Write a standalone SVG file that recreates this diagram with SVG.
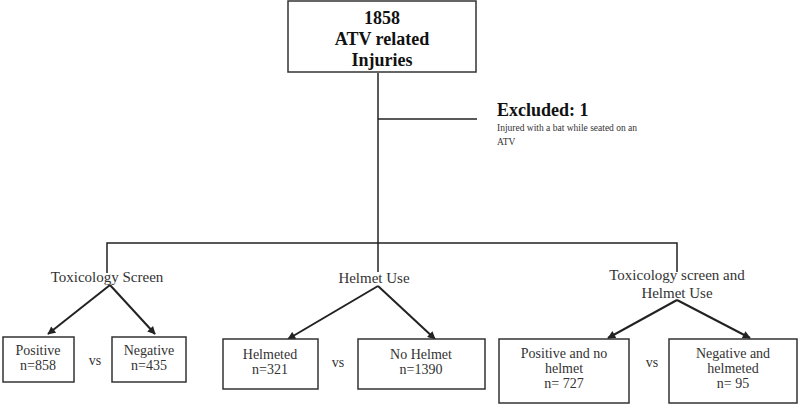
<svg xmlns="http://www.w3.org/2000/svg" width="800" height="405" viewBox="0 0 800 405">
<defs>
<marker id="ah" viewBox="0 0 10 10" refX="9" refY="5" markerWidth="10" markerHeight="8" markerUnits="userSpaceOnUse" orient="auto">
<path d="M0,0 L10,5 L0,10 z" fill="#222"/>
</marker>
</defs>
<style>
text{font-family:"Liberation Serif","Times New Roman",serif;fill:#333;text-anchor:middle}
.b{font-weight:bold;fill:#111;font-size:18px}
.n{font-size:14px}
.l{font-size:15px}
.s{font-size:9.5px;text-anchor:start}
.box{fill:#fff;stroke:#333;stroke-width:1.5}
.ln{stroke:#222;stroke-width:1.5;fill:none}
.ar{stroke:#222;stroke-width:2;fill:none;marker-end:url(#ah)}
</style>
<rect width="800" height="405" fill="#fff"/>
<g id="connectors">
<path class="ln" d="M378,73 V272"/>
<path class="ln" d="M378,119 H477"/>
<path class="ln" d="M107,273 V243 H677 V272"/>
<path class="ar" d="M110,285 L48,334"/>
<path class="ar" d="M110,285 L155,334"/>
<path class="ar" d="M378,286 L288,339"/>
<path class="ar" d="M378,286 L435,339"/>
<path class="ar" d="M677,300 L608,338"/>
<path class="ar" d="M677,300 L750,338"/>
</g>
<g id="root">
<rect class="box" x="288" y="1" width="188" height="71"/>
<text class="b" x="382" y="24">1858</text>
<text class="b" x="382" y="45">ATV related</text>
<text class="b" x="382" y="66">Injuries</text>
</g>
<g id="excluded">
<text class="b" x="497" y="116" style="text-anchor:start">Excluded: 1</text>
<text class="s" x="497" y="131">Injured with a bat while seated on an</text>
<text class="s" x="497" y="145">ATV</text>
</g>
<g id="tox-label"><text class="l" x="107" y="282">Toxicology Screen</text></g>
<g id="helmet-label"><text class="l" x="374" y="283">Helmet Use</text></g>
<g id="both-label">
<text class="l" x="677" y="280">Toxicology screen and</text>
<text class="l" x="677" y="298">Helmet Use</text>
</g>
<g id="positive">
<rect class="box" x="3" y="337" width="71" height="45"/>
<text class="n" x="38" y="355">Positive</text>
<text class="n" x="38" y="370">n=858</text>
</g>
<g id="vs1"><text class="n" x="95" y="365">vs</text></g>
<g id="negative">
<rect class="box" x="112" y="337" width="74" height="45"/>
<text class="n" x="149" y="355">Negative</text>
<text class="n" x="149" y="370">n=435</text>
</g>
<g id="helmeted">
<rect class="box" x="223" y="339" width="95" height="50"/>
<text class="n" x="270" y="359">Helmeted</text>
<text class="n" x="270" y="374">n=321</text>
</g>
<g id="vs2"><text class="n" x="338" y="367">vs</text></g>
<g id="nohelmet">
<rect class="box" x="358" y="339" width="127" height="50"/>
<text class="n" x="421" y="359">No Helmet</text>
<text class="n" x="421" y="374">n=1390</text>
</g>
<g id="posnohelmet">
<rect class="box" x="499" y="339" width="130" height="64"/>
<text class="n" x="564" y="358">Positive and no</text>
<text class="n" x="564" y="373">helmet</text>
<text class="n" x="564" y="388">n= 727</text>
</g>
<g id="vs3"><text class="n" x="652" y="367">vs</text></g>
<g id="neghelmeted">
<rect class="box" x="669" y="339" width="128" height="64"/>
<text class="n" x="733" y="358">Negative and</text>
<text class="n" x="733" y="373">helmeted</text>
<text class="n" x="733" y="388">n= 95</text>
</g>
</svg>
